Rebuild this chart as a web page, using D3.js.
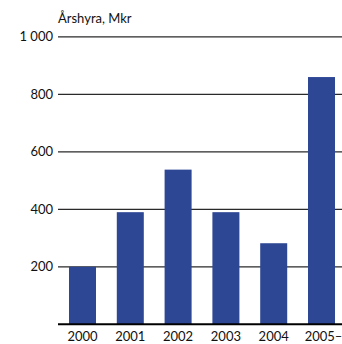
<!DOCTYPE html>
<html>
<head>
<meta charset="utf-8">
<script src="https://cdn.jsdelivr.net/npm/d3@7"></script>
<style>
  html, body { margin: 0; padding: 0; background: #fff; }
  svg { display: block; }
  text { font-family: Lato, "Open Sans", sans-serif; fill: #111; }
</style>
</head>
<body>
<svg id="chart" width="342" height="344"></svg>
<script>
// Annual rent per period, million SEK
const years = ["2000", "2001", "2002", "2003", "2004", "2005–"];
const rent = [200, 390, 538, 390, 282, 860];
const yTicks = [200, 400, 600, 800, 1000];
const yTickLabels = ["200", "400", "600", "800", "1 000"];
const yTitle = "Årshyra, Mkr";

const svg = d3.select("#chart");
const plotLeft = 58, plotRight = 342, plotTop = 36.8, plotBottom = 324.3;

const x = d3.scaleBand()
  .domain(years)
  .range([plotLeft, 346])
  .paddingInner(0.435)
  .paddingOuter(0.23);

const y = d3.scaleLinear().domain([0, 1000]).range([plotBottom, plotTop]);

// Gridlines behind the bars
svg.append("g")
  .selectAll("line")
  .data(yTicks)
  .join("line")
  .attr("x1", plotLeft)
  .attr("x2", plotRight)
  .attr("y1", d => y(d))
  .attr("y2", d => y(d))
  .attr("stroke", "#2a2a2a")
  .attr("stroke-width", 1.3);

// Y tick labels
svg.append("g")
  .selectAll("text")
  .data(yTicks)
  .join("text")
  .attr("x", 53)
  .attr("y", d => y(d) + 4.5)
  .attr("text-anchor", "end")
  .attr("font-size", 13)
  .text((d, i) => yTickLabels[i]);

// Axis title
svg.append("text")
  .attr("x", plotLeft)
  .attr("y", 23)
  .attr("font-size", 13)
  .text(yTitle);

// Bars
svg.append("g")
  .selectAll("rect")
  .data(years)
  .join("rect")
  .attr("x", d => x(d))
  .attr("width", x.bandwidth())
  .attr("y", (d, i) => y(rent[i]))
  .attr("height", (d, i) => y(0) - y(rent[i]))
  .attr("fill", "#2e4795");

// Baseline
svg.append("line")
  .attr("x1", plotLeft)
  .attr("x2", plotRight)
  .attr("y1", y(0))
  .attr("y2", y(0))
  .attr("stroke", "#000")
  .attr("stroke-width", 2);

// Category labels
svg.append("g")
  .selectAll("text")
  .data(years)
  .join("text")
  .attr("x", d => x(d) + x.bandwidth() / 2 + (d.length > 4 ? 2 : 0))
  .attr("y", 341)
  .attr("text-anchor", "middle")
  .attr("font-size", 13)
  .text(d => d);
</script>
</body>
</html>
